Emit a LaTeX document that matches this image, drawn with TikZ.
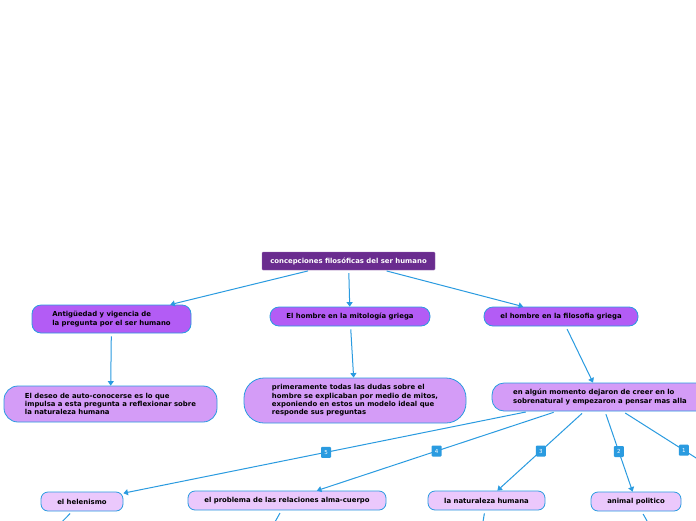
\documentclass[tikz,border=0pt]{standalone}
\usepackage{fontspec}
\setmainfont{DejaVu Sans}
\usepackage{tikz}
\usetikzlibrary{positioning, arrows.meta, calc}
\usepackage{xcolor}
\definecolor{linkblue}{HTML}{2A9BE0}
\definecolor{rootpurple}{HTML}{6A2C8F}
\definecolor{mainpurple}{HTML}{B35CF5}
\definecolor{subpurple}{HTML}{D49CF7}
\definecolor{leafpurple}{HTML}{EBC8FC}
\tikzset{
  topic/.style={draw=linkblue, line width=0.8pt, inner sep=0pt, align=left, text=black},
  rootbox/.style={fill=rootpurple, draw=rootpurple!70!white, rounded corners=1pt, text=white, minimum width=173pt, minimum height=18pt},
  mainbox/.style={topic, fill=mainpurple, rounded corners=9pt},
  subbox/.style={topic, fill=subpurple, rounded corners=14pt},
  leafbox/.style={topic, fill=leafpurple, rounded corners=7pt, minimum height=19pt},
  link/.style={draw=linkblue, line width=1pt, shorten <=3pt, -{Triangle[width=6pt,length=4.5pt]}},
  stub/.style={draw=linkblue, line width=1pt, shorten <=3pt},
  badge/.style={fill=linkblue, rounded corners=1pt, text=white, font=\fontsize{5.5}{6}\selectfont, minimum width=10pt, minimum height=11pt, inner sep=0pt}
}

\begin{document}
\begin{tikzpicture}[x=1pt, y=-1pt, font=\bfseries\fontsize{6.9}{8.4}\selectfont]
  \useasboundingbox[fill=white] (0,0) rectangle (696,520);
  \node[rootbox] (root) at (348.5,261) {concepciones filosóficas del ser humano};
  \node[mainbox, minimum width=159pt, minimum height=28pt] (antig) at (111.5,319) {Antigüedad y vigencia de\\la pregunta por el ser humano};
  \node[mainbox, minimum width=160pt, minimum height=19pt] (mito) at (350,316.5) {El hombre en la mitología griega};
  \node[mainbox, minimum width=154pt, minimum height=19pt] (filo) at (561,316.5) {el hombre en la filosofia griega};
  \node[subbox, minimum width=213pt, minimum height=36pt] (deseo) at (110.5,404) {El deseo de auto-conocerse es lo que\\impulsa a esta pregunta a reflexionar sobre\\la naturaleza humana};
  \node[subbox, minimum width=222pt, minimum height=45pt, rounded corners=20pt] (mitos) at (355,400.5) {primeramente todas las dudas sobre el\\hombre se explicaban por medio de mitos,\\exponiendo en estos un modelo ideal que\\responde sus preguntas};
  \node[subbox, minimum width=216pt, minimum height=28pt, rounded corners=12pt] (dejaron) at (600,397) {en algún momento dejaron de creer en lo\\sobrenatural y empezaron a pensar mas alla};
  \node[leafbox, minimum width=82pt] (helen) at (82,501.5) {el helenismo};
  \node[leafbox, minimum width=198pt] (alma) at (287,500.5) {el problema de las relaciones alma-cuerpo};
  \node[leafbox, minimum width=117pt] (natur) at (486.5,500.5) {la naturaleza humana};
  \node[leafbox, minimum width=90pt] (polit) at (636,501.5) {animal politico};
  \coordinate (uno) at (745,489);
  \coordinate (helen-sub) at (45,539);
  \coordinate (alma-sub) at (266,538);
  \coordinate (natur-sub) at (480,540);
  \coordinate (polit-sub) at (655,535);

  \draw[link] (root) -- (antig);
  \draw[link] (root) -- (mito);
  \draw[link] (root) -- (filo);
  \draw[link] (antig) -- (deseo);
  \draw[link] (mito) -- (mitos);
  \draw[link] (filo) -- (dejaron);
  \draw[link] (dejaron) -- node[badge] {5} (helen);
  \draw[link] (dejaron) -- node[badge] {4} (alma);
  \draw[link] (dejaron) -- node[badge] {3} (natur);
  \draw[link] (dejaron) -- node[badge] {2} (polit);
  \draw[link] (dejaron) -- node[badge] {1} (uno);
  \draw[stub] (helen) -- (helen-sub);
  \draw[stub] (alma) -- (alma-sub);
  \draw[stub] (natur) -- (natur-sub);
  \draw[stub] (polit) -- (polit-sub);
\end{tikzpicture}
\end{document}
